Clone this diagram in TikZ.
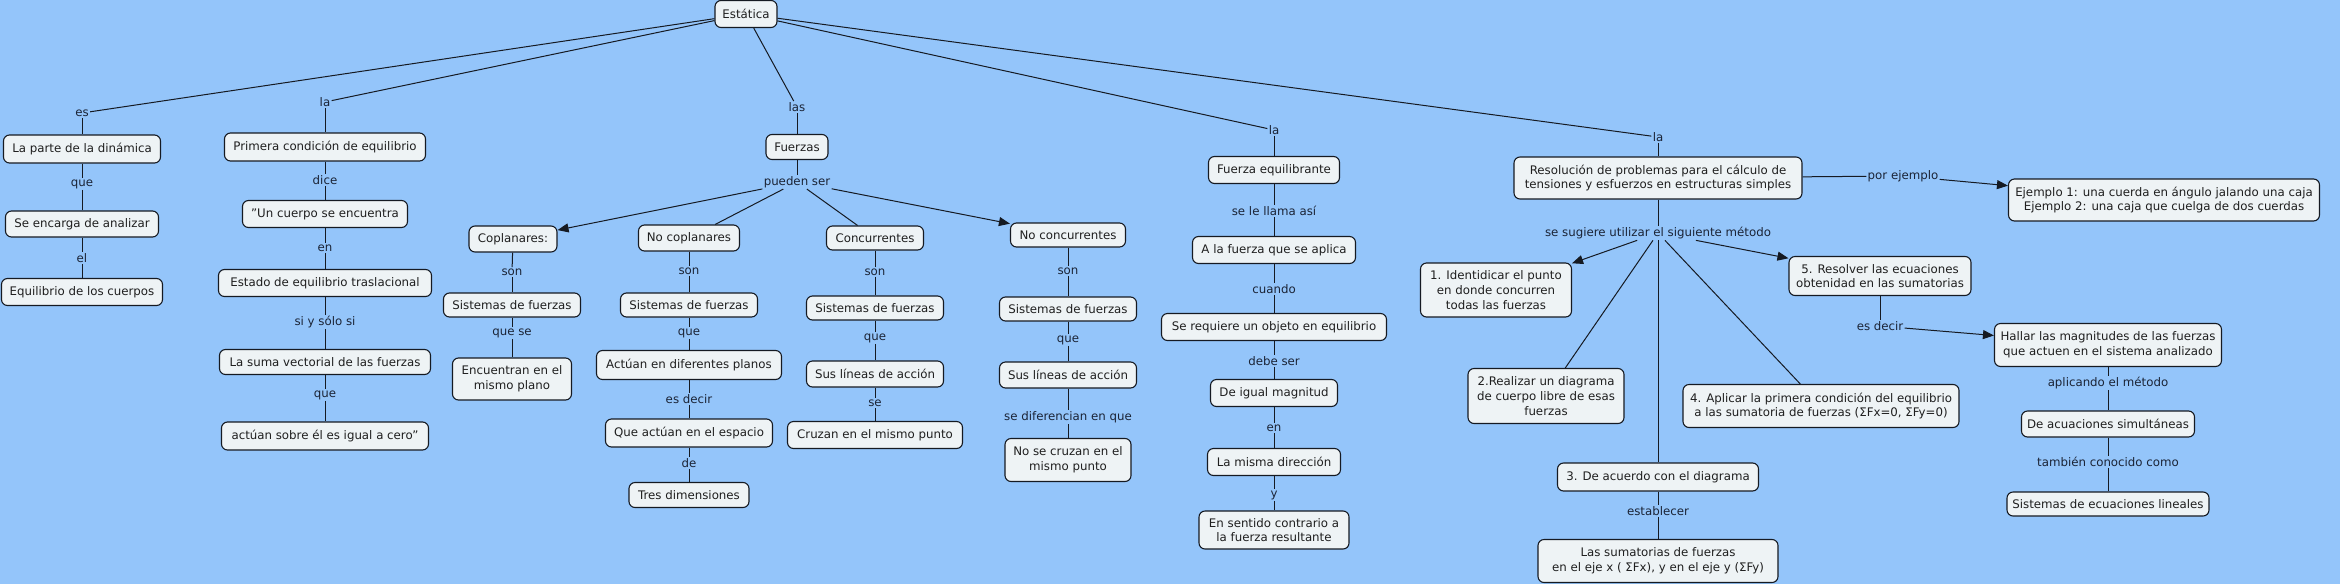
\documentclass[tikz,border=0pt]{standalone}
\usepackage{fontspec}
\setmainfont{DejaVu Sans}
\usetikzlibrary{arrows.meta}
\definecolor{bgc}{HTML}{94C5FA}
\definecolor{boxc}{HTML}{EEF3F5}
\definecolor{lblc}{HTML}{1B2436}
\definecolor{linec}{HTML}{151A22}
\begin{document}
\begin{tikzpicture}[x=1pt,y=-1pt,
 concept/.style={draw=linec, line width=1.1pt, fill=boxc, rounded corners=6pt, align=center, inner sep=2pt, font=\fontsize{11.8}{14.6}\selectfont, text=black!88},
 lbl/.style={fill=bgc, inner sep=1.2pt, text=lblc, font=\fontsize{11.8}{14.6}\selectfont},
 link/.style={draw=linec, line width=1pt},
 arr/.style={link, -{Triangle[length=11pt,width=9pt]}}]
\fill[bgc] (0,0) rectangle (2340,584);
\useasboundingbox (0,0) rectangle (2340,584);

% concepts
\node[concept, minimum width=62pt, minimum height=27pt] (estatica) at (746,14) {Estática};
\node[concept, minimum width=157pt, minimum height=28pt] (parte) at (82,149) {La parte de la dinámica};
\node[concept, minimum width=153pt, minimum height=26pt] (encarga) at (82,224) {Se encarga de analizar};
\node[concept, minimum width=161pt, minimum height=27pt] (equil) at (82,292) {Equilibrio de los cuerpos};
\node[concept, minimum width=201pt, minimum height=28pt] (primera) at (325,147) {Primera condición de equilibrio};
\node[concept, minimum width=165pt, minimum height=27pt] (uncuerpo) at (325,214) {"Un cuerpo se encuentra};
\node[concept, minimum width=213pt, minimum height=27pt] (estado) at (325,283) {Estado de equilibrio traslacional};
\node[concept, minimum width=211pt, minimum height=25pt] (suma) at (325,362) {La suma vectorial de las fuerzas};
\node[concept, minimum width=207pt, minimum height=28pt] (actuan) at (325,436) {actúan sobre él es igual a cero”};
\node[concept, minimum width=62pt, minimum height=25pt] (fuerzas) at (797,147) {Fuerzas};
\node[concept, minimum width=88pt, minimum height=26pt] (copl) at (513,239) {Coplanares:};
\node[concept, minimum width=137pt, minimum height=24pt] (sisA) at (512,305) {Sistemas de fuerzas};
\node[concept, minimum width=119pt, minimum height=42pt] (encuentran) at (512,379) {Encuentran en el\\mismo plano};
\node[concept, minimum width=101pt, minimum height=26pt] (nocopl) at (689,238) {No coplanares};
\node[concept, minimum width=137pt, minimum height=24pt] (sisB) at (689,305) {Sistemas de fuerzas};
\node[concept, minimum width=185pt, minimum height=29pt] (actdif) at (689,365) {Actúan en diferentes planos};
\node[concept, minimum width=167pt, minimum height=28pt] (queact) at (689,433) {Que actúan en el espacio};
\node[concept, minimum width=120pt, minimum height=25pt] (tres) at (689,495) {Tres dimensiones};
\node[concept, minimum width=97pt, minimum height=24pt] (conc) at (875,238) {Concurrentes};
\node[concept, minimum width=137pt, minimum height=24pt] (sisC) at (875,308) {Sistemas de fuerzas};
\node[concept, minimum width=137pt, minimum height=26pt] (susA) at (875,374) {Sus líneas de acción};
\node[concept, minimum width=175pt, minimum height=27pt] (cruzan) at (875,435) {Cruzan en el mismo punto};
\node[concept, minimum width=115pt, minimum height=24pt] (noconc) at (1068,235) {No concurrentes};
\node[concept, minimum width=137pt, minimum height=24pt] (sisD) at (1068,309) {Sistemas de fuerzas};
\node[concept, minimum width=137pt, minimum height=26pt] (susB) at (1068,375) {Sus líneas de acción};
\node[concept, minimum width=126pt, minimum height=43pt] (nocruzan) at (1068,460) {No se cruzan en el\\mismo punto};
\node[concept, minimum width=131pt, minimum height=27pt] (fequil) at (1274,170) {Fuerza equilibrante};
\node[concept, minimum width=163pt, minimum height=27pt] (alafuerza) at (1274,250) {A la fuerza que se aplica};
\node[concept, minimum width=225pt, minimum height=27pt] (requiere) at (1274,327) {Se requiere un objeto en equilibrio};
\node[concept, minimum width=127pt, minimum height=27pt] (igual) at (1274,393) {De igual magnitud};
\node[concept, minimum width=133pt, minimum height=27pt] (misma) at (1274,462) {La misma dirección};
\node[concept, minimum width=150pt, minimum height=38pt] (sentido) at (1274,530) {En sentido contrario a\\la fuerza resultante};
\node[concept, minimum width=288pt, minimum height=42pt] (resol) at (1658,178) {Resolución de problemas para el cálculo de\\tensiones y esfuerzos en estructuras simples};
\node[concept, minimum width=151pt, minimum height=54pt] (paso1) at (1496,290) {1. Identidicar el punto\\en donde concurren\\todas las fuerzas};
\node[concept, minimum width=156pt, minimum height=55pt] (paso2) at (1546,396) {2.Realizar un diagrama\\de cuerpo libre de esas\\fuerzas};
\node[concept, minimum width=201pt, minimum height=28pt] (paso3) at (1658,477) {3. De acuerdo con el diagrama};
\node[concept, minimum width=240pt, minimum height=43pt] (sumat) at (1658,561) {Las sumatorias de fuerzas\\en el eje x ( ΣFx), y en el eje y (ΣFy)};
\node[concept, minimum width=276pt, minimum height=43pt] (paso4) at (1821,406) {4. Aplicar la primera condición del equilibrio\\a las sumatoria de fuerzas (ΣFx=0, ΣFy=0)};
\node[concept, minimum width=182pt, minimum height=39pt] (paso5) at (1880,276) {5. Resolver las ecuaciones\\obtenidad en las sumatorias};
\node[concept, minimum width=311pt, minimum height=42pt] (ejemplo) at (2164,200) {Ejemplo 1: una cuerda en ángulo jalando una caja\\Ejemplo 2: una caja que cuelga de dos cuerdas};
\node[concept, minimum width=227pt, minimum height=43pt] (hallar) at (2108,345) {Hallar las magnitudes de las fuerzas\\que actuen en el sistema analizado};
\node[concept, minimum width=173pt, minimum height=26pt] (acuac) at (2108,424) {De acuaciones simultáneas};
\node[concept, minimum width=202pt, minimum height=24pt] (siseq) at (2108,504) {Sistemas de ecuaciones lineales};

% linking phrases
\node[lbl] (les) at (82,113) {es};
\node[lbl] (lla1) at (325,102) {la};
\node[lbl] (llas) at (797,107) {las};
\node[lbl] (lla2) at (1274,130) {la};
\node[lbl] (lla3) at (1658,137) {la};
\node[lbl] (lque1) at (82,184) {que};
\node[lbl] (lel) at (82,258) {el};
\node[lbl] (ldice) at (325,180) {dice};
\node[lbl] (len1) at (325,248) {en};
\node[lbl] (lsisolo) at (325,322) {si y sólo si};
\node[lbl] (lque2) at (325,395) {que};
\node[lbl] (lpueden) at (797,182) {pueden ser};
\node[lbl] (lson1) at (512,272) {son};
\node[lbl] (lquese) at (512,333) {que se};
\node[lbl] (lson2) at (689,271) {son};
\node[lbl] (lque3) at (689,333) {que};
\node[lbl] (lesdecir1) at (689,399) {es decir};
\node[lbl] (lde) at (689,463) {de};
\node[lbl] (lson3) at (875,272) {son};
\node[lbl] (lque4) at (875,338) {que};
\node[lbl] (lse) at (875,403) {se};
\node[lbl] (lson4) at (1068,271) {son};
\node[lbl] (lque5) at (1068,340) {que};
\node[lbl] (lsedif) at (1068,417) {se diferencian en que};
\node[lbl] (lsellama) at (1274,211) {se le llama así};
\node[lbl] (lcuando) at (1274,289) {cuando};
\node[lbl] (ldebe) at (1274,361) {debe ser};
\node[lbl] (len2) at (1274,428) {en};
\node[lbl] (ly) at (1274,495) {y};
\node[lbl] (lsugiere) at (1658,233) {se sugiere utilizar el siguiente método};
\node[lbl] (lestablecer) at (1658,511) {establecer};
\node[lbl] (lporej) at (1903,176) {por ejemplo};
\node[lbl] (lesdecir2) at (1880,326) {es decir};
\node[lbl] (laplicando) at (2108,383) {aplicando el método};
\node[lbl] (ltambien) at (2108,462) {también conocido como};

% connections
\draw[link] (estatica) -- (les);
\draw[link] (les) -- (parte);
\draw[link] (parte) -- (lque1);
\draw[link] (lque1) -- (encarga);
\draw[link] (encarga) -- (lel);
\draw[link] (lel) -- (equil);

\draw[link] (estatica) -- (lla1);
\draw[link] (lla1) -- (primera);
\draw[link] (primera) -- (ldice);
\draw[link] (ldice) -- (uncuerpo);
\draw[link] (uncuerpo) -- (len1);
\draw[link] (len1) -- (estado);
\draw[link] (estado) -- (lsisolo);
\draw[link] (lsisolo) -- (suma);
\draw[link] (suma) -- (lque2);
\draw[link] (lque2) -- (actuan);

\draw[link] (estatica) -- (llas);
\draw[link] (llas) -- (fuerzas);
\draw[link] (fuerzas) -- (lpueden);
\draw[arr] (lpueden) -- (copl);
\draw[link] (lpueden) -- (nocopl);
\draw[link] (lpueden) -- (conc);
\draw[arr] (lpueden) -- (noconc);

\draw[link] (copl) -- (lson1);
\draw[link] (lson1) -- (sisA);
\draw[link] (sisA) -- (lquese);
\draw[link] (lquese) -- (encuentran);

\draw[link] (nocopl) -- (lson2);
\draw[link] (lson2) -- (sisB);
\draw[link] (sisB) -- (lque3);
\draw[link] (lque3) -- (actdif);
\draw[link] (actdif) -- (lesdecir1);
\draw[link] (lesdecir1) -- (queact);
\draw[link] (queact) -- (lde);
\draw[link] (lde) -- (tres);

\draw[link] (conc) -- (lson3);
\draw[link] (lson3) -- (sisC);
\draw[link] (sisC) -- (lque4);
\draw[link] (lque4) -- (susA);
\draw[link] (susA) -- (lse);
\draw[link] (lse) -- (cruzan);

\draw[link] (noconc) -- (lson4);
\draw[link] (lson4) -- (sisD);
\draw[link] (sisD) -- (lque5);
\draw[link] (lque5) -- (susB);
\draw[link] (susB) -- (lsedif);
\draw[link] (lsedif) -- (nocruzan);

\draw[link] (estatica) -- (lla2);
\draw[link] (lla2) -- (fequil);
\draw[link] (fequil) -- (lsellama);
\draw[link] (lsellama) -- (alafuerza);
\draw[link] (alafuerza) -- (lcuando);
\draw[link] (lcuando) -- (requiere);
\draw[link] (requiere) -- (ldebe);
\draw[link] (ldebe) -- (igual);
\draw[link] (igual) -- (len2);
\draw[link] (len2) -- (misma);
\draw[link] (misma) -- (ly);
\draw[link] (ly) -- (sentido);

\draw[link] (estatica) -- (lla3);
\draw[link] (lla3) -- (resol);
\draw[link] (resol) -- (lsugiere);
\draw[arr] (lsugiere) -- (paso1);
\draw[link] (lsugiere) -- (paso2);
\draw[link] (lsugiere) -- (paso3);
\draw[link] (lsugiere) -- (paso4);
\draw[arr] (lsugiere) -- (paso5);
\draw[link] (paso3) -- (lestablecer);
\draw[link] (lestablecer) -- (sumat);
\draw[link] (resol) -- (lporej);
\draw[arr] (lporej) -- (ejemplo);
\draw[link] (paso5) -- (lesdecir2);
\draw[arr] (lesdecir2) -- (hallar);
\draw[link] (hallar) -- (laplicando);
\draw[link] (laplicando) -- (acuac);
\draw[link] (acuac) -- (ltambien);
\draw[link] (ltambien) -- (siseq);
\end{tikzpicture}
\end{document}
